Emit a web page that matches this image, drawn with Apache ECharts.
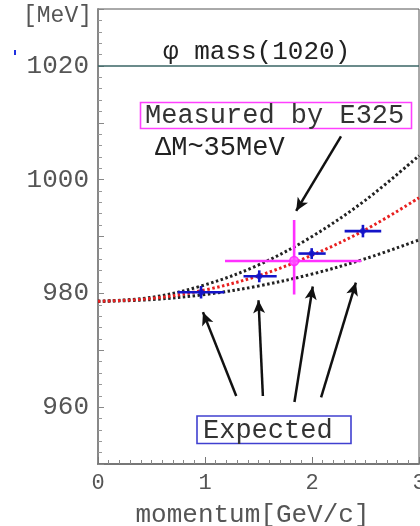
<!DOCTYPE html>
<html><head><meta charset="utf-8">
<script src="https://cdn.jsdelivr.net/npm/echarts@6/dist/echarts.min.js"></script>
<style>html,body{margin:0;padding:0;background:#fff}#c{width:420px;height:526px}</style>
</head><body><div id="c"></div>
<script>
// ---- data ----
const curveP = [0, 0.5, 1, 1.5, 2, 2.5, 3];
const upperCurve = [978.6, 979.3, 981.5, 985.0, 990.0, 996.4, 1004.2];
const centralCurve = [978.6, 979.1, 980.6, 983.1, 986.7, 991.2, 996.8];
const lowerCurve = [978.6, 978.9, 979.8, 981.3, 983.4, 986.1, 989.4];

const expP = [0.963, 1.507, 1.997, 2.476];
const expM = [980.2, 983.0, 987.0, 990.95];
const expPlo = [0.745, 1.36, 1.873, 2.305];
const expPhi = [1.18, 1.67, 2.128, 2.647];
const expMerr = [1.1, 1.05, 0.95, 1.1];

const measP = [1.833];
const measM = [985.7];
const measPlo = [1.187];
const measPhi = [2.46];
const measMlo = [979.8];
const measMhi = [992.9];

const phiMass = 1020;

const arrowFrom = [[2.271, 1007.6], [1.292, 961.95], [1.541, 961.95], [1.836, 960.9], [2.085, 961.7]];
const arrowTo   = [[1.852, 994.5], [0.981, 976.7], [1.5, 978.8], [2.007, 981.2], [2.41, 981.9]];

const yTickLabels = [960, 980, 1000, 1020];
const xTickLabels = [0, 1, 2, 3];

// ---- build ----
const FONT = '"Liberation Mono", "Courier New", monospace';
const zip = (a, b) => a.map((v, i) => [v, b[i]]);
const expBars = expP.map((p, i) => [p, expM[i], expPlo[i], expPhi[i], expM[i] - expMerr[i], expM[i] + expMerr[i]]);
const measBars = measP.map((p, i) => [p, measM[i], measPlo[i], measPhi[i], measMlo[i], measMhi[i]]);

function errRender(color, w) {
  return function (params, api) {
    const a = api.coord([api.value(2), api.value(1)]);
    const b = api.coord([api.value(3), api.value(1)]);
    const c = api.coord([api.value(0), api.value(4)]);
    const d = api.coord([api.value(0), api.value(5)]);
    return { type: 'group', children: [
      { type: 'line', shape: { x1: a[0], y1: a[1], x2: b[0], y2: b[1] }, style: { stroke: color, lineWidth: w } },
      { type: 'line', shape: { x1: c[0], y1: c[1], x2: d[0], y2: d[1] }, style: { stroke: color, lineWidth: w } }
    ]};
  };
}

const chart = echarts.init(document.getElementById('c'), null, { renderer: 'canvas' });
chart.setOption({
  animation: false,
  backgroundColor: '#fff',
  grid: { left: 98, right: 1, top: 9, bottom: 62, show: true, borderColor: '#555', borderWidth: 1,
    containLabel: false, outerBoundsMode: 'none' },
  xAxis: {
    type: 'value', min: 0, max: 3, interval: 1,
    axisLine: { show: true, lineStyle: { color: '#777', width: 2 } },
    axisTick: { show: true, inside: true, length: 7, lineStyle: { color: '#777' } },
    minorTick: { show: true, splitNumber: 10, length: 4, lineStyle: { color: '#888' } },
    splitLine: { show: false },
    axisLabel: { color: '#555', fontFamily: FONT, fontSize: 22, margin: 8,
      formatter: v => xTickLabels.includes(v) ? String(v) : '' }
  },
  yAxis: {
    type: 'value', min: 950, max: 1030, interval: 10,
    axisLine: { show: true, lineStyle: { color: '#888', width: 2 } },
    axisTick: { show: true, inside: true, length: 6, lineStyle: { color: '#888' } },
    minorTick: { show: true, splitNumber: 5, length: 4, lineStyle: { color: '#999' } },
    splitLine: { show: false },
    axisLabel: { color: '#555', fontFamily: FONT, fontSize: 26, margin: 9,
      formatter: v => yTickLabels.includes(v) ? String(v) : '' }
  },
  series: [
    { type: 'line', data: zip(curveP, upperCurve), smooth: 0.35, showSymbol: false, silent: true,
      lineStyle: { color: '#222', width: 3, type: [2.5, 2.5] }, z: 2,
      markLine: { silent: true, symbol: ['none', 'none'], label: { show: false },
        lineStyle: { color: '#3a6464', width: 1.5, type: 'solid' },
        data: [{ yAxis: phiMass }] } },
    { type: 'line', data: zip(curveP, lowerCurve), smooth: 0.35, showSymbol: false, silent: true,
      lineStyle: { color: '#222', width: 3, type: [2.5, 2.5] }, z: 2 },
    { type: 'line', data: zip(curveP, centralCurve), smooth: 0.35, showSymbol: false, silent: true,
      lineStyle: { color: '#e82020', width: 3, type: [2.5, 2.5] }, z: 3,
      markLine: { silent: true, symbol: ['none', 'arrow'], symbolSize: [9, 13], label: { show: false },
        lineStyle: { color: '#111', width: 2.5, type: 'solid' },
        data: arrowFrom.map((f, i) => [{ coord: f }, { coord: arrowTo[i] }]) } },
    { type: 'custom', renderItem: errRender('#1414c8', 2.6), data: expBars, z: 5 },
    { type: 'scatter', data: zip(expP, expM), symbol: 'circle', symbolSize: 6, itemStyle: { color: '#1414c8' }, z: 6 },
    { type: 'custom', renderItem: errRender('#ff30ff', 2.6), data: measBars, z: 7 },
    { type: 'scatter', data: zip(measP, measM), symbol: 'circle', symbolSize: 9,
      itemStyle: { color: '#ff50ff', borderColor: '#ff20ff', borderWidth: 1.5 }, z: 8 }
  ],
  graphic: [
    { type: 'rect', shape: { x: 14, y: 50, width: 2, height: 5 }, style: { fill: '#2030e0' } },
    { type: 'text', x: 92, y: 16, style: { text: '[MeV]', font: '23px ' + FONT, fill: '#555', align: 'right', verticalAlign: 'middle' } },
    { type: 'text', x: 252.5, y: 515, style: { text: 'momentum[GeV/c]', font: '26px ' + FONT, fill: '#555', align: 'center', verticalAlign: 'middle' } },
    { type: 'text', x: 163, y: 52, style: { text: 'φ mass(1020)', font: '26px ' + FONT, fill: '#222', align: 'left', verticalAlign: 'middle' } },
    { type: 'rect', shape: { x: 140.5, y: 102.5, width: 271, height: 26 }, style: { fill: 'none', stroke: '#ff40ff', lineWidth: 1.6 } },
    { type: 'text', x: 145, y: 116, style: { text: 'Measured by E325', font: '27px ' + FONT, fill: '#333', align: 'left', verticalAlign: 'middle' } },
    { type: 'text', x: 155, y: 148, style: { text: 'ΔM~35MeV', font: '27px ' + FONT, fill: '#222', align: 'left', verticalAlign: 'middle' } },
    { type: 'rect', shape: { x: 197, y: 416, width: 154, height: 27.5 }, style: { fill: '#fff', stroke: '#4040d0', lineWidth: 1.6 } },
    { type: 'text', x: 203, y: 431, style: { text: 'Expected', font: '27px ' + FONT, fill: '#333', align: 'left', verticalAlign: 'middle' } }
  ]
});
</script></body></html>
